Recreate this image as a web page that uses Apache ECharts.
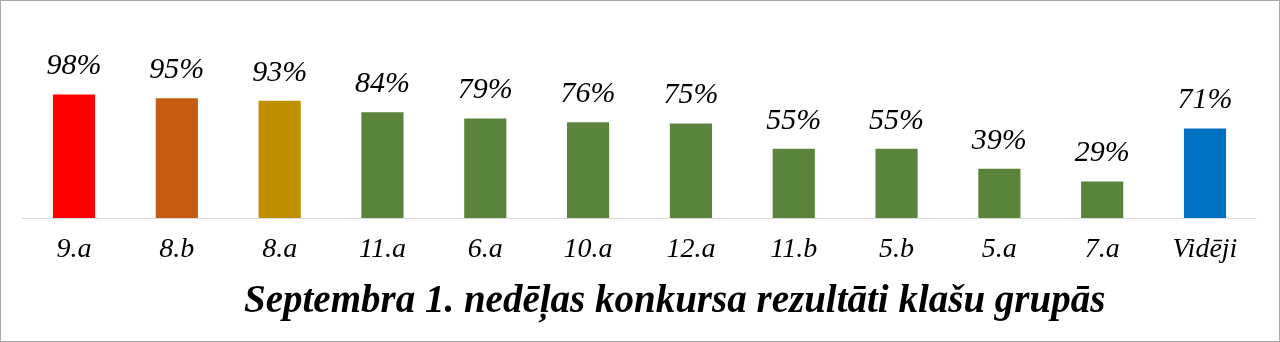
<!DOCTYPE html>
<html><head><meta charset="utf-8">
<script src="https://cdn.jsdelivr.net/npm/echarts@6/dist/echarts.min.js"></script>
<style>html,body{margin:0;padding:0;background:#fff}#c{width:1280px;height:342px;box-sizing:border-box;border:1px solid #a6a6a6}</style>
</head><body><div id="c"></div>
<script>
const categories = ['9.a','8.b','8.a','11.a','6.a','10.a','12.a','11.b','5.b','5.a','7.a','Vidēji'];
const values = [98,95,93,84,79,76,75,55,55,39,29,71];
const barColors = ['#FF0000','#C55A11','#BF8F00','#5A843C','#5A843C','#5A843C','#5A843C','#5A843C','#5A843C','#5A843C','#5A843C','#0070C0'];
const titleText = 'Septembra 1. nedēļas konkursa rezultāti klašu grupās';
</script>
<script>
const chart = echarts.init(document.getElementById('c'));
const font = '"Liberation Serif", "DejaVu Serif", serif';
chart.setOption({
  animation:false,
  title:{text:titleText,left:238,top:276,textStyle:{fontFamily:font,fontStyle:'italic',fontWeight:'bold',fontSize:39,color:'#000'}},
  grid:{left:21.6,right:22.6,top:91,height:126,containLabel:false},
  xAxis:{type:'category',data:categories,axisLine:{lineStyle:{color:'#d9d9d9',width:1}},axisTick:{show:false},
    axisLabel:{fontFamily:font,fontStyle:'italic',fontSize:28,color:'#000',margin:18}},
  yAxis:{type:'value',min:0,max:100,show:false,splitLine:{show:false}},
  series:[{type:'bar',barWidth:'41%',data:values.map((v,i)=>({value:v,itemStyle:{color:barColors[i]}})),
    label:{show:true,position:'top',distance:13,formatter:'{c}%',fontFamily:font,fontStyle:'italic',fontSize:30,color:'#000'}}]
});
</script></body></html>
